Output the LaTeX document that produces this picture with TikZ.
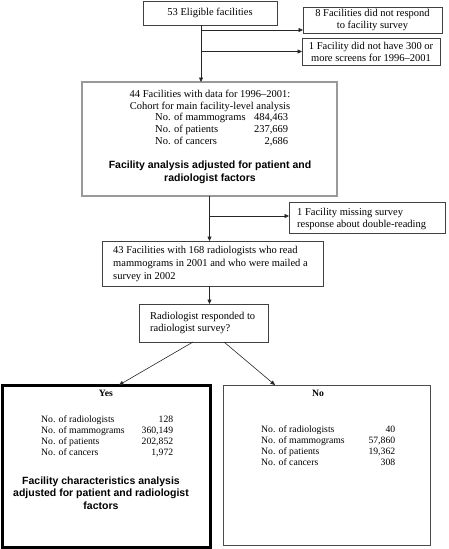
\documentclass[tikz,border=0pt]{standalone}
\usepackage{fontspec}
\setmainfont{Liberation Serif}
\newfontfamily\arialfam{Liberation Sans}
\usetikzlibrary{arrows.meta}
\newcommand{\txtsize}{\fontsize{10.5}{12}\selectfont}
\newcommand{\smallsize}{\fontsize{9.7}{11}\selectfont}
\newcommand{\boldsans}{\arialfam\bfseries\fontsize{10.5}{12.5}\selectfont}
\newcommand{\statrow}[4]{\makebox[#1][l]{#3}\makebox[#2][r]{#4}}
\tikzset{
  box/.style={draw=black!75, line width=0.8pt, inner sep=0pt, outer sep=0pt},
  bigbox/.style={draw=black!40, line width=2.5pt, inner sep=0pt, outer sep=0pt},
  yesbox/.style={draw=black, line width=3pt, inner sep=0pt, outer sep=0pt},
  nobox/.style={draw=black!70, line width=1pt, inner sep=0pt, outer sep=0pt},
  arr/.style={-{Triangle[length=4.5pt,width=4pt]}, line width=0.6pt, draw=black!85},
  txt/.style={font=\txtsize, inner sep=0pt, align=center},
  ltxt/.style={font=\txtsize, inner sep=0pt, align=left, anchor=west},
  stxt/.style={font=\smallsize, inner sep=0pt, align=left, anchor=west},
  btxt/.style={font=\boldsans, inner sep=0pt, align=center},
}
\begin{document}
\begin{tikzpicture}[x=1pt,y=-1pt]
\useasboundingbox (0,0) rectangle (448,549);
% boxes
\node[box, minimum width=134pt, minimum height=24pt] (A) at (210,13) {};
\node[box, minimum width=139pt, minimum height=26pt] (B) at (372.5,20) {};
\node[box, minimum width=138pt, minimum height=27pt] (C) at (371,51.5) {};
\node[bigbox, minimum width=255pt, minimum height=114pt] (G) at (209.5,139) {};
\node[box, minimum width=156pt, minimum height=31pt] (D) at (367,218) {};
\node[box, minimum width=221pt, minimum height=45pt] (E) at (212.5,263.5) {};
\node[box, minimum width=129pt, minimum height=38pt] (F) at (203.5,323) {};
\node[yesbox, minimum width=208pt, minimum height=162pt] (Y) at (106,466) {};
\node[nobox, minimum width=207pt, minimum height=160pt] (N) at (326.5,465) {};
% texts
\node[txt] (At) at (A) {53 Eligible facilities};
\node[txt] (Bt) at (B) {8 Facilities did not respond\\to facility survey};
\node[txt] (Ct) at (C) {1 Facility did not have 300 or\\more screens for 1996--2001};
\node[txt] (Gt1) at (210,100.5) {44 Facilities with data for 1996--2001:\\Cohort for main facility-level analysis};
\node[ltxt] (Gt2) at (155,130) {\statrow{92pt}{41pt}{No. of mammograms}{484,463}\\
\statrow{92pt}{41pt}{No. of patients}{237,669}\\
\statrow{92pt}{41pt}{No. of cancers}{2,686}};
\node[btxt] (Gt3) at (210,172.5) {Facility analysis adjusted for patient and\\radiologist factors};
\node[ltxt] (Dt) at (297,218.5) {1 Facility missing survey\\response about double-reading};
\node[ltxt, font=\fontsize{10.5}{13}\selectfont] (Et) at (113,264) {43 Facilities with 168 radiologists who read\\mammograms in 2001 and who were mailed a\\survey in 2002};
\node[ltxt] (Ft) at (150,323) {Radiologist responded to\\radiologist survey?};
\node[txt, font=\smallsize\bfseries] (Yt) at (106,393) {Yes};
\node[stxt] (Yr) at (41,436.5) {\statrow{92pt}{40pt}{No. of radiologists}{128}\\
\statrow{92pt}{40pt}{No. of mammograms}{360,149}\\
\statrow{92pt}{40pt}{No. of patients}{202,852}\\
\statrow{92pt}{40pt}{No. of cancers}{1,972}};
\node[btxt] (Yb) at (101,493) {Facility characteristics analysis\\adjusted for patient and radiologist\\factors};
\node[txt, font=\smallsize\bfseries] (Nt) at (318,393) {No};
\node[stxt] (Nr) at (261,446) {\statrow{92pt}{42pt}{No. of radiologists}{40}\\
\statrow{92pt}{42pt}{No. of mammograms}{57,860}\\
\statrow{92pt}{42pt}{No. of patients}{19,362}\\
\statrow{92pt}{42pt}{No. of cancers}{308}};
% connectors
\coordinate (t) at ([xshift=-9pt]A.south);
\coordinate (b1) at ([yshift=-10pt]B.west);
\coordinate (d1) at ([yshift=2pt]D.west);
\draw[arr] (t) -- (t |- G.north);
\draw[arr] (b1 -| t) -- (b1);
\draw[arr] (C.west -| t) -- (C.west);
\draw[arr] (G.south) -- (G.south |- E.north);
\draw[arr] (d1 -| G.south) -- (d1);
\draw[arr] (G.south |- E.south) -- (G.south |- F.north);
\draw[arr] ([xshift=-10.5pt]F.south) -- ([xshift=13pt]Y.north);
\draw[arr] ([xshift=20.5pt]F.south) -- ([xshift=-51.5pt]N.north);
\end{tikzpicture}
\end{document}
